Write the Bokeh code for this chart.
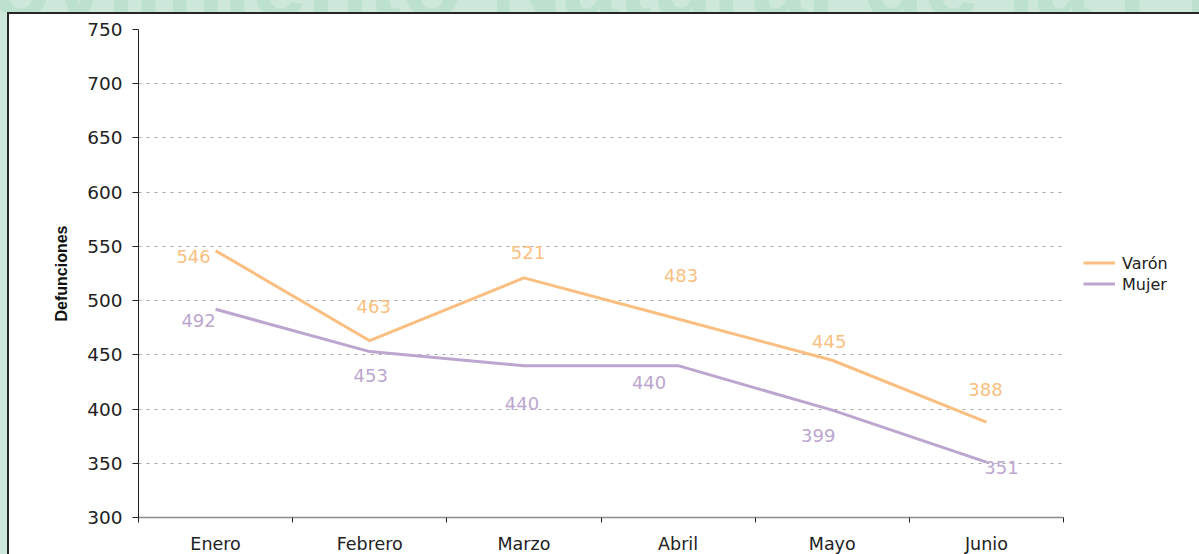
from bokeh.plotting import figure
from bokeh.models import (Range1d, FixedTicker, LabelSet, ColumnDataSource, Legend, LegendItem,
                          Div, Row, Column)
from bokeh.core.properties import value
from bokeh.embed import file_html
from bokeh.resources import INLINE

# ---- data ----
months = ["Enero", "Febrero", "Marzo", "Abril", "Mayo", "Junio"]
varon = [546, 463, 521, 483, 445, 388]
mujer = [492, 453, 440, 440, 399, 351]
y_ticks = [300, 350, 400, 450, 500, 550, 600, 650, 700, 750]
series_names = ["Varón", "Mujer"]
banner_text = "Movimiento Natural de la Provincia"

# label placement (screen pixel offsets, style only; +y = up)
varon_dx = [-22, 4, 4, 3, -3, -1]
varon_dy = [-6, 34, 25, 44, 19, 33]
mujer_dx = [-17, 1, -2, -29, -14, 15]
mujer_dy = [-11, -24, -38, -17, -25, -5]

ORANGE = "#fabf80"
PURPLE = "#bca6d0"
GREEN_BG = "#cde8da"
GREEN_TXT = "#bde1cf"
DARK = "#262626"
FONT = "DejaVu Sans"

n = len(months)
xpos = [i + 0.5 for i in range(n)]

p = figure(frame_width=925, frame_height=488, x_range=Range1d(0, n), y_range=Range1d(300, 750),
           output_backend="svg", toolbar_location=None,
           min_border_left=129, min_border_right=0, min_border_top=15, min_border_bottom=37)
p.margin = 0
p.border_fill_color = "white"
p.background_fill_color = "white"
p.outline_line_color = None

# lines
r_v = p.line(xpos, varon, color=ORANGE, line_width=3)
r_m = p.line(xpos, mujer, color=PURPLE, line_width=3)

# value labels
src_v = ColumnDataSource(dict(x=xpos, y=varon, t=[str(v) for v in varon], dx=varon_dx, dy=varon_dy))
src_m = ColumnDataSource(dict(x=xpos, y=mujer, t=[str(v) for v in mujer], dx=mujer_dx, dy=mujer_dy))
for src, col in ((src_v, ORANGE), (src_m, PURPLE)):
    p.add_layout(LabelSet(x="x", y="y", text="t", x_offset="dx", y_offset="dy", source=src,
                          text_color=col, text_font=value(FONT), text_font_size="18px",
                          text_align="center", text_baseline="middle"))

# grid
p.xgrid.visible = False
p.ygrid.ticker = FixedTicker(ticks=y_ticks)
p.ygrid.grid_line_color = "#a8a8a8"
p.ygrid.grid_line_dash = "3 5"
p.ygrid.grid_line_width = 1

# y axis
ya = p.yaxis[0]
ya.ticker = FixedTicker(ticks=y_ticks)
ya.axis_line_color = "#222222"
ya.major_tick_line_color = "#222222"
ya.major_tick_out = 6
ya.major_tick_in = 0
ya.minor_tick_line_color = None
ya.major_label_text_font = FONT
ya.major_label_text_font_size = "18.5px"
ya.major_label_text_color = "#222222"
ya.major_label_standoff = 10
ya.axis_label = "Defunciones"
ya.axis_label_text_font = "Liberation Sans"
ya.axis_label_text_font_style = "bold"
ya.axis_label_text_font_size = "16px"
ya.axis_label_text_color = "#111111"
ya.axis_label_standoff = 14

# x axis (labels at centres, ticks at boundaries)
xa = p.xaxis[0]
xa.ticker = FixedTicker(ticks=xpos, minor_ticks=list(range(n + 1)))
xa.major_label_overrides = {x: m for x, m in zip(xpos, months)}
xa.axis_line_color = "#8c8c8c"
xa.axis_line_width = 1.5
xa.major_tick_line_color = None
xa.major_tick_out = 0
xa.major_tick_in = 0
xa.minor_tick_line_color = "#222222"
xa.minor_tick_out = 5
xa.minor_tick_in = 0
xa.major_label_text_font = FONT
xa.major_label_text_font_size = "17.5px"
xa.major_label_text_color = "#222222"
xa.major_label_standoff = 11

# legend in the right panel
lg = Legend(items=[LegendItem(label=series_names[0], renderers=[r_v]),
                   LegendItem(label=series_names[1], renderers=[r_m])])
lg.location = "center_left"
lg.border_line_color = None
lg.background_fill_alpha = 0
lg.border_line_alpha = 0
lg.padding = 0
lg.margin = 20
lg.spacing = 1
lg.glyph_width = 32
lg.glyph_height = 20
lg.label_height = 20
lg.label_width = 50
lg.label_standoff = 7
lg.label_text_font = FONT
lg.label_text_font_size = "16px"
lg.label_text_color = "#222222"
p.add_layout(lg, "right")

# page frame: green background strip with faded banner title, dark panel border
banner = Div(text=('<div style="margin-left:-93px;margin-top:-68px;font:bold 100px \'Liberation Sans\';'
                   'line-height:100px;white-space:nowrap;color:%s;">%s</div>') % (GREEN_TXT, banner_text),
             width=1199, height=12, margin=0,
             styles={"overflow": "hidden", "background-color": GREEN_BG})
top_line = Div(text="", width=1199, height=2, margin=0,
               styles={"background": "linear-gradient(to right, %s 0px, %s 7px, %s 7px)" % (GREEN_BG, GREEN_BG, DARK)})
left_strip = Div(text="", width=9, height=540, margin=0,
                 styles={"background": "linear-gradient(to right, %s 0px, %s 7px, %s 7px, %s 9px)" % (GREEN_BG, GREEN_BG, DARK, DARK)})

layout = Column(children=[banner, top_line, Row(children=[left_strip, p], spacing=0, margin=0)],
                spacing=0, margin=0)

open("out.html", "w").write(file_html(layout, INLINE))
